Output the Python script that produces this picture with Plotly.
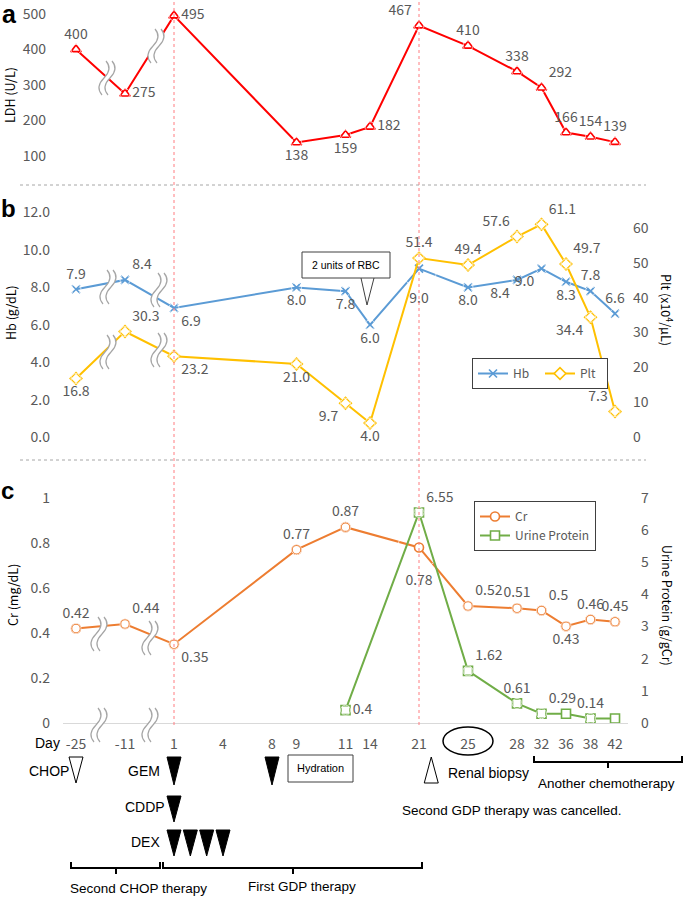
import numpy as np
import plotly.graph_objects as go

W, H = 685, 897
L, R = 63, 628            # plot area, pixels
FONT = "Noto Sans CJK JP"
ARIAL = "Liberation Sans"
GRAY = "#595959"

# broken time axis: day -> column
axis_days = [-25, -11, 1, 4, 8, 9, 11, 14, 21, 25, 28, 32, 36, 38, 42]
axis_cols = [0, 2, 4, 6, 8, 9, 11, 12, 14, 16, 18, 19, 20, 21, 22]

ldh_days = [-25, -11, 1, 9, 11, 14, 21, 25, 28, 32, 36, 38, 42]
ldh = [400, 275, 495, 138, 159, 182, 467, 410, 338, 292, 166, 154, 139]

blood_days = [-25, -11, 1, 9, 11, 14, 21, 25, 28, 32, 36, 38, 42]
hb = [7.9, 8.4, 6.9, 8.0, 7.8, 6.0, 9.0, 8.0, 8.4, 9.0, 8.3, 7.8, 6.6]
plt_count = [16.8, 30.3, 23.2, 21.0, 9.7, 4.0, 51.4, 49.4, 57.6, 61.1, 49.7, 34.4, 7.3]

cr_days = [-25, -11, 1, 9, 11, 21, 25, 28, 32, 36, 38, 42]
cr = [0.42, 0.44, 0.35, 0.77, 0.87, 0.78, 0.52, 0.51, 0.5, 0.43, 0.46, 0.45]

up_days = [11, 21, 25, 28, 32, 36, 38, 42]
urine_protein = [0.4, 6.55, 1.62, 0.61, 0.29, 0.29, 0.14, 0.14]
up_labels = ["0.4", "6.55", "1.62", "0.61", "0.29", "", "0.14", ""]

chop_days = [-25]
gem_days = [1, 8]
cddp_days = [1]
dex_days = [1, 2, 3, 4]
biopsy_days = [22]
marker_days = [1, 21]   # red dotted lines


def col(days):
    return np.interp(days, axis_days, axis_cols)


def px(x):
    return (x - L) / (R - L)


def py(y):
    return 1 - y / H


# label placement
ldh_pos = ["top center", "middle right", "middle right", "bottom center", "bottom center",
           "middle right", "top left", "top center", "top center", "top right",
           "top center", "top center", "top center"]
hb_pos = ["top center", "top right", "bottom right", "bottom center", "bottom center",
          "bottom center", "bottom center", "bottom center", "bottom left", "bottom left",
          "bottom center", "top center", "top center"]
plt_pos = ["bottom center", "top right", "bottom right", "bottom center", "bottom left",
           "bottom center", "top center", "top center", "top left", "top right",
           "top right", "bottom left", "top left"]
cr_pos = ["top center", "top right", "bottom right", "top center", "top center",
          "bottom center", "top right", "top center", "top right", "bottom center",
          "top center", "top center"]
up_pos = ["middle right", "top right", "top right", "top center", "top right",
          "top center", "top center", "top center"]

# a few labels sit further from their point
hb_gap = {6: 36}
cr_gap = {5: 42}

fig = go.Figure()


def series(days, vals, name, color, symbol, yaxis, legend=None, show=True):
    if symbol == "x-thin":
        mk = dict(symbol=symbol, size=8, line=dict(color=color, width=1.6))
    else:
        mk = dict(symbol=symbol, size=9, color="white", line=dict(color=color, width=1.6))
    fig.add_trace(go.Scatter(
        x=col(days), y=vals, name=name, mode="lines+markers", yaxis=yaxis,
        line=dict(color=color, width=2), marker=mk,
        showlegend=show, legend=legend, cliponaxis=False, hoverinfo="skip"))


def labels(days, vals, text, pos, yaxis, gap=None):
    gap = gap or {}
    keep = [i for i, t in enumerate(text) if t]
    fig.add_trace(go.Scatter(
        x=col([days[i] for i in keep]), y=[vals[i] for i in keep],
        mode="markers+text", text=[text[i] for i in keep],
        textposition=[pos[i] for i in keep], yaxis=yaxis,
        marker=dict(size=[gap.get(i, 10) for i in keep], color="rgba(0,0,0,0)"),
        textfont=dict(family=FONT, size=14, color=GRAY),
        showlegend=False, cliponaxis=False, hoverinfo="skip"))


series(ldh_days, ldh, "LDH", "#FF0000", "triangle-up", "y", show=False)
series(blood_days, hb, "Hb", "#5B9BD5", "x-thin", "y2", legend="legend")
series(blood_days, plt_count, "Plt", "#FFC000", "diamond", "y3", legend="legend")
series(cr_days, cr, "Cr", "#ED7D31", "circle", "y4", legend="legend2")
series(up_days, urine_protein, "Urine Protein", "#70AD47", "square", "y5", legend="legend2")

labels(ldh_days, ldh, [str(v) for v in ldh], ldh_pos, "y")
labels(blood_days, hb, [f"{v:.1f}" for v in hb], hb_pos, "y2", hb_gap)
labels(blood_days, plt_count, [f"{v:.1f}" for v in plt_count], plt_pos, "y3")
labels(cr_days, cr, [str(v) for v in cr], cr_pos, "y4", cr_gap)
labels(up_days, urine_protein, up_labels, up_pos, "y5")

shapes = []

# red dotted day markers
for d in marker_days:
    shapes.append(dict(type="line", xref="x", yref="paper", x0=col(d), x1=col(d),
                       y0=py(725), y1=1, line=dict(color="#FF7C80", width=1, dash="dot")))

# panel separators
for y in [185, 460]:
    shapes.append(dict(type="line", xref="paper", yref="paper", x0=px(20), x1=px(646),
                       y0=py(y), y1=py(y), line=dict(color="#A6A6A6", width=1, dash="dot")))


# axis break symbols
def s_pts(dx):
    return [(dx + 2, 17), (dx + 8, 10), (dx + 4, 4), (dx, 0),
            (dx - 4, -4), (dx - 8, -10), (dx - 2, -17)]


def s_path(p, start="M"):
    f = lambda q: f"{q[0]},{q[1]}"
    return f"{start}{f(p[0])} C{f(p[1])} {f(p[2])} {f(p[3])} C{f(p[4])} {f(p[5])} {f(p[6])}"


breaks = [(107, 78), (156, 46), (108, 287), (159, 290), (108, 352), (159, 350),
          (99, 634), (150, 638), (99, 725), (150, 725)]
for cx, cy in breaks:
    a, b = s_pts(-3), s_pts(3)
    base = dict(xref="paper", yref="paper", xsizemode="pixel", ysizemode="pixel",
                xanchor=px(cx), yanchor=py(cy))
    fill = s_path(a) + " L" + s_path(b[::-1])[1:] + " Z"
    shapes.append(dict(type="path", path=fill, fillcolor="white", line=dict(width=0), **base))
    shapes.append(dict(type="path", path=s_path(a), line=dict(color="#A6A6A6", width=1.2), **base))
    shapes.append(dict(type="path", path=s_path(b), line=dict(color="#A6A6A6", width=1.2), **base))


# treatment triangles
def tri(day, y, h, fill, up=False):
    path = f"M-7,0 L7,0 L0,{h if up else -h} Z"
    return dict(type="path", xref="x", yref="paper", xsizemode="pixel", ysizemode="pixel",
                xanchor=col(day), yanchor=py(y), path=path, fillcolor=fill,
                line=dict(color="black", width=1))


for d in chop_days:
    shapes.append(tri(d, 757, 26, "white"))
for d in gem_days:
    shapes.append(tri(d, 757, 28, "black"))
for d in cddp_days:
    shapes.append(tri(d, 796, 26, "black"))
for d in dex_days:
    shapes.append(tri(d, 830, 26, "black"))
for d in biopsy_days:
    shapes.append(tri(d, 783, 26, "white", up=True))


def pix_path(segments):
    out = []
    for seg in segments:
        out.append("M" + " L".join(f"{px(x)},{py(y)}" for x, y in seg))
    return " ".join(out)


# brackets
for x0, x1, xm, y in [(71, 160, 116, 868), (163, 422, 293, 868)]:
    shapes.append(dict(type="path", xref="paper", yref="paper",
                       path=pix_path([[(x0, y - 6), (x0, y), (x1, y), (x1, y - 6)], [(xm, y), (xm, y + 6)]]),
                       line=dict(color="black", width=2)))
shapes.append(dict(type="path", xref="paper", yref="paper",
                   path=pix_path([[(534, 756), (534, 762), (682, 762), (682, 756)], [(608, 762), (608, 768)]]),
                   line=dict(color="black", width=2)))

# boxes
shapes.append(dict(type="rect", xref="paper", yref="paper", x0=px(302), x1=px(390),
                   y0=py(278), y1=py(252), line=dict(color="#404040", width=1), fillcolor="white"))
shapes.append(dict(type="path", xref="paper", yref="paper",
                   path=pix_path([[(361, 278), (367, 305), (374, 278)]]),
                   line=dict(color="#404040", width=1)))
shapes.append(dict(type="rect", xref="paper", yref="paper", x0=px(288), x1=px(353),
                   y0=py(782), y1=py(755), line=dict(color="#404040", width=1), fillcolor="white"))
shapes.append(dict(type="circle", xref="paper", yref="paper", x0=px(443), x1=px(493),
                   y0=py(755), y1=py(727), line=dict(color="black", width=1.5)))


def note(text, x, y, size=14, anchor="center", color="black", family=ARIAL, angle=0, bold=False):
    if bold:
        text = f"<b>{text}</b>"
    return dict(text=text, x=px(x), y=py(y), xref="paper", yref="paper", showarrow=False,
                xanchor=anchor, yanchor="middle", textangle=angle,
                font=dict(family=family, size=size, color=color))


annotations = [
    note("a", 9, 14, 25, bold=True), note("b", 8, 208, 24, bold=True), note("c", 7, 490, 24, bold=True),
    note("LDH (U/L)", 10, 95, 12.5, family=FONT, angle=-90),
    note("Hb (g/dL)", 10, 313, 12.5, family=FONT, angle=-90),
    note("Plt (x10<sup>4</sup>/μL)", 667, 310, 12.5, family=FONT, angle=90),
    note("Cr (mg/dL)", 12, 595, 12.5, family=FONT, angle=-90),
    note("Urine Protein (g/gCr)", 668, 605, 12.5, family=FONT, angle=90),
    note("2 units of RBC", 346, 265, 10.5),
    note("Day", 62, 743, 14, anchor="right"),
    note("CHOP", 71, 771, 14, anchor="right"),
    note("GEM", 162, 771, 14, anchor="right"),
    note("CDDP", 167, 807, 14, anchor="right"),
    note("DEX", 162, 842, 14, anchor="right"),
    note("Hydration", 320, 768, 11),
    note("Renal biopsy", 446, 773, 14, anchor="left"),
    note("Another chemotherapy", 536, 783, 13.5, anchor="left"),
    note("Second GDP therapy was cancelled.", 512, 810, 13.5),
    note("Second CHOP therapy", 138, 888, 13.5),
    note("First GDP therapy", 302, 886, 13.5),
]

tick_font = dict(family=FONT, size=14, color=GRAY)
yax = dict(anchor="x", showgrid=False, zeroline=False, showline=False, ticks="",
           tickfont=tick_font, automargin=False)

fig.update_layout(
    width=W, height=H, template="none",
    margin=dict(l=L, r=W - R, t=0, b=0),
    paper_bgcolor="white", plot_bgcolor="rgba(0,0,0,0)",
    xaxis=dict(domain=[0, 1], anchor="y4", range=[-0.531, 22.53], tickmode="array",
               tickvals=axis_cols, ticktext=[str(d) for d in axis_days],
               showline=True, linecolor="#D9D9D9", linewidth=1, ticks="", showgrid=False,
               zeroline=False, tickfont=tick_font, ticklabelstandoff=8, automargin=False),
    yaxis=dict(domain=[py(178), py(5)], range=[38, 525], tickvals=[100, 200, 300, 400, 500],
               ticklabelstandoff=16, **yax),
    yaxis2=dict(domain=[py(450), py(195)], range=[-0.695, 12.94], tickvals=list(range(0, 13, 2)),
                tickformat=".1f", ticklabelstandoff=12, **yax),
    yaxis3=dict(overlaying="y2", side="right", range=[-3.74, 69.54], tickvals=list(range(0, 61, 10)),
                ticklabelstandoff=4, **yax),
    yaxis4=dict(domain=[py(723), py(470)], range=[0, 1.124], tickvals=[0, 0.2, 0.4, 0.6, 0.8, 1],
                ticklabelstandoff=12, **yax),
    yaxis5=dict(overlaying="y4", side="right", range=[0, 7.87], tickvals=list(range(0, 8)),
                ticklabelstandoff=12, **yax),
    legend=dict(x=px(472), y=py(358), xanchor="left", yanchor="top", orientation="h",
                bordercolor="#404040", borderwidth=1, bgcolor="white", itemwidth=30,
                entrywidth=22, font=dict(family=FONT, size=12, color=GRAY)),
    legend2=dict(x=px(474), y=py(501), xanchor="left", yanchor="top", orientation="v",
                 bordercolor="#404040", borderwidth=1, bgcolor="white", itemwidth=30,
                 tracegroupgap=10, traceorder="grouped",
                 font=dict(family=FONT, size=12, color=GRAY)),
    shapes=shapes, annotations=annotations,
)

# the page's default 8px body margin would shift the whole figure
fig.write_html("out.html", config={"displayModeBar": False},
               post_script="document.body.style.margin='0';")
